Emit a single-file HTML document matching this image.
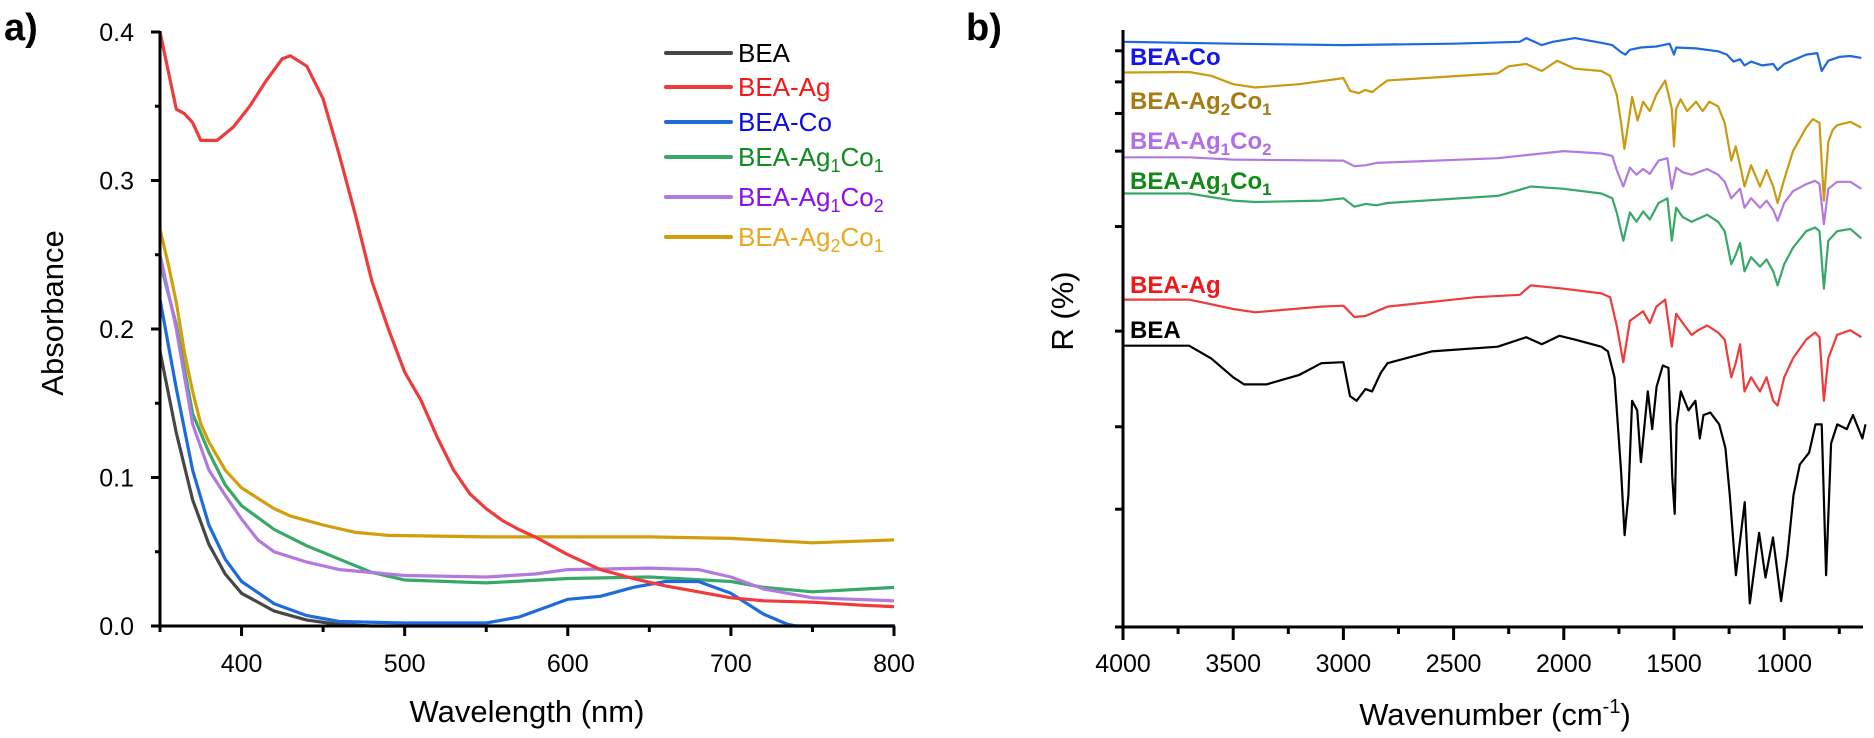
<!DOCTYPE html>
<html><head><meta charset="utf-8">
<style>
html,body{margin:0;padding:0;background:#fff;}
svg{display:block;font-family:"Liberation Sans",Arial,sans-serif;}
</style></head>
<body>
<svg id="fig" width="1874" height="738" viewBox="0 0 1874 738" xmlns="http://www.w3.org/2000/svg">
<text x="4" y="40" font-size="38" font-weight="bold">a)</text>
<text x="966" y="40" font-size="38" font-weight="bold">b)</text>
<g id="pa"></g>
<g id="pb"></g>
</svg>
<script>
// ---------- Panel a data (UV-Vis absorbance) ----------
const uvNames = ["BEA","BEA-Ag","BEA-Co","BEA-Ag1Co1","BEA-Ag1Co2","BEA-Ag2Co1"];
const uvBEA = [[350,0.185],[360,0.13],[370,0.085],[380,0.055],[390,0.035],[400,0.022],[420,0.01],[440,0.004],[460,0.001],[480,0],[800,0]];
const uvAg = [[350,0.4],[360,0.348],[365,0.345],[370,0.339],[375,0.327],[385,0.327],[395,0.336],[405,0.35],[415,0.367],[425,0.382],[430,0.384],[440,0.377],[450,0.355],[460,0.317],[470,0.276],[480,0.232],[490,0.2],[500,0.171],[510,0.152],[520,0.127],[530,0.105],[540,0.089],[550,0.079],[560,0.071],[570,0.065],[580,0.06],[590,0.054],[600,0.048],[620,0.038],[640,0.032],[660,0.027],[680,0.023],[700,0.019],[720,0.017],[750,0.016],[780,0.014],[800,0.013]];
const uvCo = [[350,0.22],[360,0.16],[370,0.105],[380,0.068],[390,0.045],[400,0.03],[420,0.015],[440,0.007],[460,0.003],[500,0.002],[550,0.002],[570,0.006],[590,0.014],[600,0.018],[620,0.02],[640,0.026],[660,0.03],[680,0.03],[700,0.022],[720,0.008],[735,0.001],[740,0],[800,0]];
const uvAg1Co1 = [[350,0.245],[360,0.203],[370,0.143],[380,0.117],[390,0.095],[400,0.081],[410,0.073],[420,0.065],[440,0.054],[460,0.045],[480,0.036],[500,0.031],[550,0.029],[600,0.032],[650,0.033],[700,0.03],[720,0.026],[750,0.023],[800,0.026]];
const uvAg1Co2 = [[350,0.25],[360,0.2],[370,0.136],[380,0.105],[390,0.088],[400,0.072],[410,0.058],[420,0.05],[440,0.043],[460,0.038],[480,0.036],[500,0.034],[550,0.033],[580,0.035],[600,0.038],[650,0.039],[680,0.038],[700,0.033],[720,0.025],[750,0.019],[800,0.017]];
const uvAg2Co1 = [[350,0.267],[355,0.244],[360,0.218],[365,0.184],[370,0.158],[375,0.136],[380,0.124],[390,0.105],[400,0.093],[410,0.086],[420,0.079],[430,0.074],[440,0.071],[450,0.068],[470,0.063],[490,0.061],[550,0.06],[650,0.06],[700,0.059],[750,0.056],[800,0.058]];
const uvXTicks = [400,500,600,700,800];
const uvYTicks = [0.0,0.1,0.2,0.3,0.4];

// ---------- Panel b data (FTIR, arbitrary R units) ----------
const irBEA = [[4000,59.7],[3700,59.7],[3600,57],[3500,53],[3450,51.5],[3350,51.5],[3200,53.5],[3100,56],[3000,56.2],[2970,49],[2940,48],[2900,50.5],[2870,50],[2830,54],[2800,56],[2600,58.5],[2300,59.5],[2170,61.5],[2100,60],[2020,61.8],[1950,61],[1830,59.5],[1800,58.5],[1770,53],[1740,33],[1724,19.5],[1707,28],[1690,48],[1667,46],[1650,35],[1619,50],[1599,42],[1579,51],[1551,55.5],[1525,55],[1508,32],[1497,24],[1488,43],[1469,50],[1434,46],[1403,48],[1383,40],[1366,45],[1335,45.5],[1295,43],[1267,38],[1247,28],[1219,11],[1179,26.5],[1156,5],[1114,20],[1085,10.5],[1051,19],[1014,5.5],[986,15],[958,28],[929,34.5],[887,37],[858,43],[830,43],[810,11],[787,39],[759,43],[716,42],[688,45],[645,40],[631,43]];
const irAg = [[4000,69.5],[3700,69.5],[3500,67.5],[3400,66.8],[3100,68],[3000,68.2],[2950,65.8],[2900,66],[2850,67],[2800,68],[2400,70],[2200,70.5],[2150,72.5],[2000,71.8],[1830,70.8],[1790,70],[1760,64],[1730,56.2],[1700,65],[1670,66],[1640,67],[1610,64.5],[1580,68],[1540,69.5],[1510,59.5],[1490,66.5],[1460,64.5],[1420,62],[1390,63],[1350,64],[1300,62.5],[1270,61],[1240,53],[1220,56],[1200,60],[1180,50],[1150,53],[1110,50],[1080,53],[1050,48],[1030,47],[1000,53],[960,57],[900,61],[860,62.5],[840,61.5],[820,48],[800,57],[760,62],[700,63],[650,61.5]];
const irAg1Co1 = [[4000,92],[3700,92],[3500,90.5],[3400,90.2],[3100,90.5],[3000,91],[2950,89.2],[2900,89.8],[2850,89.5],[2800,90],[2300,91.5],[2200,92.8],[2150,93.5],[2000,93],[1830,92],[1780,91],[1760,88],[1730,82],[1700,88],[1670,86],[1640,88.2],[1610,86.5],[1570,90],[1530,91],[1510,82],[1490,89],[1460,87],[1420,86],[1350,87.5],[1300,86],[1270,84],[1240,77],[1220,79],[1200,81.5],[1180,75.5],[1150,78.5],[1110,76.5],[1080,78],[1050,75.5],[1030,72.5],[1000,77],[960,80.5],[900,84],[860,84.8],[840,84],[820,71.8],[800,82],[760,84],[700,84.5],[650,82.5]];
const irAg1Co2 = [[4000,99.7],[3700,99.7],[3500,99.2],[3000,99],[2950,97.8],[2900,98],[2850,98.5],[2300,99.5],[2000,101],[1830,100.5],[1780,100],[1760,97],[1730,93.5],[1700,97.5],[1670,96],[1640,97.2],[1610,96.2],[1570,99],[1530,99.5],[1510,93],[1490,97.5],[1460,96.5],[1420,96],[1350,97.2],[1300,96],[1270,94.5],[1240,91],[1220,92],[1200,93],[1180,89],[1150,91],[1110,89],[1080,90.5],[1050,88.5],[1030,86.2],[1000,90],[960,92.5],[900,94],[860,94.7],[840,94],[820,85.5],[800,93],[760,94.5],[700,94.5],[650,93]];
const irAg2Co1 = [[4000,117.7],[3700,117.8],[3600,117],[3500,115.2],[3400,114.5],[3200,115.2],[3000,116.5],[2970,113.8],[2930,113.3],[2900,114],[2870,113.5],[2830,115],[2800,116],[2300,117.5],[2250,119],[2170,119.5],[2100,118],[2030,120.2],[1950,118.5],[1830,118],[1790,117],[1760,113],[1740,107],[1725,101.5],[1710,106],[1690,112.5],[1665,107.5],[1640,111.5],[1610,109.5],[1580,113],[1540,116],[1510,110],[1500,102],[1490,110],[1470,112],[1440,109.5],[1400,111.5],[1370,109.5],[1340,111.5],[1300,110.5],[1270,107],[1240,99],[1220,102],[1200,98],[1180,93.5],[1150,98],[1110,93.5],[1080,97],[1050,93.5],[1030,90],[1000,95],[960,101],[900,106],[870,107.8],[840,107],[820,90.5],[800,103],[780,105.5],[760,106.5],[700,107.2],[650,106]];
const irCo = [[4000,124.2],[3500,123.8],[3000,123.5],[2500,123.8],[2200,124.2],[2170,125],[2100,123.5],[2050,124.2],[1950,125],[1830,124],[1780,123.5],[1740,122],[1720,121.5],[1700,122.5],[1650,123],[1580,123.2],[1520,123.8],[1500,121.5],[1490,123],[1400,122.8],[1300,122.2],[1260,121.5],[1230,120],[1200,120.5],[1180,119.2],[1150,120],[1100,119.2],[1050,119.5],[1030,118.2],[1000,119.5],[900,121.5],[850,121.8],[830,118],[800,120.2],[750,121],[700,121.2],[650,120.8]];
const irXTicks = [4000,3500,3000,2500,2000,1500,1000];
const irYTickVals = [0,25,42.5,62.8,85,101,109,115.7,122.3];

const NS="http://www.w3.org/2000/svg";
function mk(parent,tag,attrs){const e=document.createElementNS(NS,tag);for(const k in attrs)e.setAttribute(k,attrs[k]);parent.appendChild(e);return e;}

// ---- Panel a axes ----
const ax={x0:160,x1:894,y0:626,y1:32};
const xA=v=>ax.x0+(v-350)/(800-350)*(ax.x1-ax.x0);
const yA=v=>ax.y0-(v/0.4)*(ax.y0-ax.y1);
const pa=document.getElementById('pa');
function pathFrom(data,fx,fy){return data.map((p,i)=>(i?'L':'M')+fx(p[0]).toFixed(1)+' '+fy(p[1]).toFixed(1)).join(' ');}
const uvSeries=[[uvBEA,'#474747'],[uvAg1Co1,'#38a868'],[uvAg1Co2,'#b27ade'],[uvAg2Co1,'#d29e0c'],[uvCo,'#1f6bdc'],[uvAg,'#ee3b3b']];
const uvSeriesNames=['series-bea','series-bea-ag1co1','series-bea-ag1co2','series-bea-ag2co1','series-bea-co','series-bea-ag'];
uvSeries.forEach((s,i)=>{
  const p=mk(pa,'path',{d:pathFrom(s[0],xA,yA),fill:'none',stroke:s[1],'stroke-width':3.2,'stroke-linejoin':'round'});
  
  
});
const axA=mk(pa,'path',{d:`M${ax.x0} ${ax.y1-1}V${ax.y0}H${ax.x1+1}`,fill:'none',stroke:'#000','stroke-width':3});


for(let v=0;v<=0.4001;v+=0.05){
  const major=Math.abs(v*10-Math.round(v*10))<1e-6;
  mk(pa,'line',{x1:ax.x0,x2:ax.x0-(major?9:5),y1:yA(v),y2:yA(v),stroke:'#000','stroke-width':3});
}
uvYTicks.forEach(v=>{
  const t=mk(pa,'text',{x:134,y:yA(v)+9,'font-size':25,'text-anchor':'end'});t.textContent=v.toFixed(1);
  
  
});
for(let v=350;v<=800;v+=50){
  const major=v%100===0;
  mk(pa,'line',{x1:xA(v),x2:xA(v),y1:ax.y0,y2:ax.y0+(major?10:6),stroke:'#000','stroke-width':3});
}
uvXTicks.forEach(v=>{
  const t=mk(pa,'text',{x:xA(v),y:672,'font-size':25,'text-anchor':'middle'});t.textContent=v;
  
  
});
const yt=mk(pa,'text',{x:0,y:0,'font-size':31,'text-anchor':'middle',transform:'translate(63 313) rotate(-90)'});yt.textContent='Absorbance';


const xt=mk(pa,'text',{x:527,y:722,'font-size':31,'text-anchor':'middle'});xt.textContent='Wavelength (nm)';


// legend
const legLine=['#474747','#ee3b3b','#1f6bdc','#38a868','#b27ade','#d29e0c'];
const legText=['#000','#f01818','#0a0aee','#118a1e','#8a10f0','#eaa820'];
const legRows=[53,87,122,157,197,237];
const legLabel=[['BEA'],['BEA-Ag'],['BEA-Co'],['BEA-Ag','1','Co','1'],['BEA-Ag','1','Co','2'],['BEA-Ag','2','Co','1']];
legLabel.forEach((lb,i)=>{
  const g=mk(pa,'g',{});
  
  
  mk(g,'line',{x1:666,x2:731,y1:legRows[i],y2:legRows[i],stroke:legLine[i],'stroke-width':4,'stroke-linecap':'round'});
  const t=mk(g,'text',{x:738,y:legRows[i]+9,'font-size':26,fill:legText[i]});
  lb.forEach((part,j)=>{const ts=mk(t,'tspan',j%2?{'font-size':18,dy:6}:{'font-size':26,dy:j?-6:0});ts.textContent=part;});
});

// ---- Panel b axes ----
const bx={x0:1123,x1:1863,y0:627,y1:31};
const xB=v=>bx.x0+(4000-v)/500*110.2;
const yB=v=>bx.y0-v/126.5*(bx.y0-bx.y1);
const pb=document.getElementById('pb');
const irSeries=[[irCo,'#2068dc','series-bea-co'],[irAg2Co1,'#c99a12','series-bea-ag2co1'],[irAg1Co2,'#b27ade','series-bea-ag1co2'],[irAg1Co1,'#38a868','series-bea-ag1co1'],[irAg,'#ee3b3b','series-bea-ag'],[irBEA,'#000','series-bea']];
irSeries.forEach(s=>{
  const p=mk(pb,'path',{d:pathFrom(s[0],xB,yB),fill:'none',stroke:s[1],'stroke-width':2.2,'stroke-linejoin':'round'});
  
  
});
const axB=mk(pb,'path',{d:`M${bx.x0} ${bx.y1-1}V${bx.y0}H${bx.x1}`,fill:'none',stroke:'#000','stroke-width':3});


irYTickVals.forEach(v=>{mk(pb,'line',{x1:bx.x0,x2:bx.x0-8,y1:yB(v),y2:yB(v),stroke:'#000','stroke-width':3});});
for(let v=4000;v>=700;v-=250){
  const major=v%500===0;
  mk(pb,'line',{x1:xB(v),x2:xB(v),y1:bx.y0,y2:bx.y0+(major?13:7),stroke:'#000','stroke-width':3});
}
irXTicks.forEach(v=>{
  const t=mk(pb,'text',{x:xB(v),y:672,'font-size':25,'text-anchor':'middle'});t.textContent=v;
  
  
});
const yt2=mk(pb,'text',{x:0,y:0,'font-size':31,'text-anchor':'middle',transform:'translate(1073 311) rotate(-90)'});yt2.textContent='R (%)';


const xt2=mk(pb,'text',{x:1495,y:725,'font-size':31,'text-anchor':'middle'});


{const a=mk(xt2,'tspan',{});a.textContent='Wavenumber (cm';const b=mk(xt2,'tspan',{'font-size':20,dy:-12});b.textContent='-1';const c=mk(xt2,'tspan',{dy:12});c.textContent=')';}
const irLab=[[['BEA-Co'],'#1414f0',57],[['BEA-Ag','2','Co','1'],'#a87a10',101],[['BEA-Ag','1','Co','2'],'#b26ee6',141],[['BEA-Ag','1','Co','1'],'#128a18',181],[['BEA-Ag'],'#f01818',285],[['BEA'],'#000',330]];
irLab.forEach(l=>{
  const t=mk(pb,'text',{x:1130,y:l[2]+8,'font-size':24,'font-weight':'bold',fill:l[1]});
  
  
  l[0].forEach((part,j)=>{const ts=mk(t,'tspan',j%2?{'font-size':17,dy:6}:{'font-size':24,dy:j?-6:0});ts.textContent=part;});
});
</script>
</body></html>
